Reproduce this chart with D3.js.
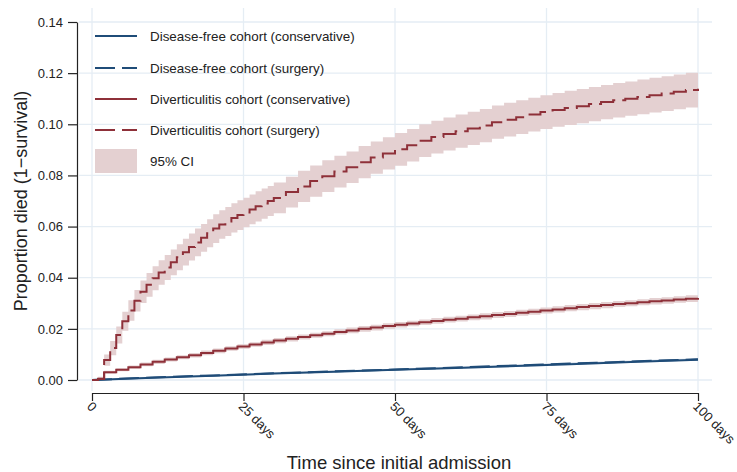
<!DOCTYPE html>
<html>
    <head>
        <title>Cumulative mortality</title>
        <script src="https://d3js.org/d3.v7.min.js"></script>
    </head>
    <body style="margin:0">

        <style type="text/css">
            svg text {
                font-family: "Liberation Sans", Arial, Helvetica, sans-serif;
                fill: #222;
            }
            .grid line {
                stroke: #e5edf4;
                stroke-width: 1.3;
            }
            .axis path, .axis line {
                stroke: #222;
                stroke-width: 1.2;
            }
            .axis text {
                font-size: 13px;
            }
            .km {
                fill: none;
                stroke-width: 2;
            }
        </style>

        <script>
            var svgWidth = 737, svgHeight = 472;

            var yTicks = [0, 0.02, 0.04, 0.06, 0.08, 0.10, 0.12, 0.14];
            var xTicks = [0, 25, 50, 75, 100];
            var xTickLabels = ["0", "25 days", "50 days", "75 days", "100 days"];

            var legendLabels = [
                "Disease-free cohort (conservative)",
                "Disease-free cohort (surgery)",
                "Diverticulitis cohort (conservative)",
                "Diverticulitis cohort (surgery)",
                "95% CI"
            ];

            // rows: [day, proportion died, CI half-width]
            var freeConservative = [
                [0, 0, 0], [10, 0.0009, 0.0002], [20, 0.0017, 0.0002], [30, 0.0025, 0.0003],
                [40, 0.0032, 0.0003], [50, 0.0040, 0.0003], [60, 0.0047, 0.0003], [70, 0.0055, 0.0004],
                [80, 0.0063, 0.0004], [90, 0.0071, 0.0004], [100, 0.0079, 0.0004]
            ];
            var freeSurgery = [
                [0, 0, 0], [10, 0.0010, 0.0002], [20, 0.0018, 0.0002], [30, 0.0026, 0.0003],
                [40, 0.0034, 0.0003], [50, 0.0041, 0.0003], [60, 0.0049, 0.0003], [70, 0.0057, 0.0004],
                [80, 0.0065, 0.0004], [90, 0.0073, 0.0004], [100, 0.0081, 0.0004]
            ];
            var divConservative = [
                [0, 0, 0], [1, 0.0004, 0.0003], [2, 0.0030, 0.0006], [4, 0.0040, 0.0006], [6, 0.0050, 0.0007],
                [8, 0.0061, 0.0007], [10, 0.0071, 0.0008], [12, 0.0080, 0.0008], [14, 0.0089, 0.0008],
                [16, 0.0097, 0.0009], [18, 0.0106, 0.0009], [20, 0.0114, 0.0009], [22, 0.0123, 0.0009],
                [24, 0.0131, 0.0009], [26, 0.0139, 0.0009], [28, 0.0147, 0.0010], [30, 0.0154, 0.0010],
                [32, 0.0161, 0.0010], [34, 0.0168, 0.0010], [36, 0.0175, 0.0010], [38, 0.0181, 0.0010],
                [40, 0.0188, 0.0010], [42, 0.0194, 0.0011], [44, 0.0200, 0.0011], [46, 0.0205, 0.0011],
                [48, 0.0211, 0.0011], [50, 0.0216, 0.0011], [52, 0.0221, 0.0011], [54, 0.0226, 0.0011],
                [56, 0.0231, 0.0011], [58, 0.0236, 0.0011], [60, 0.0240, 0.0011], [62, 0.0245, 0.0011],
                [64, 0.0249, 0.0012], [66, 0.0254, 0.0012], [68, 0.0258, 0.0012], [70, 0.0263, 0.0012],
                [72, 0.0267, 0.0012], [74, 0.0272, 0.0012], [76, 0.0276, 0.0012], [78, 0.0281, 0.0012],
                [80, 0.0285, 0.0012], [82, 0.0289, 0.0012], [84, 0.0293, 0.0012], [86, 0.0297, 0.0012],
                [88, 0.0300, 0.0012], [90, 0.0304, 0.0012], [92, 0.0308, 0.0013], [94, 0.0311, 0.0013],
                [96, 0.0315, 0.0013], [98, 0.0318, 0.0013], [100, 0.0321, 0.0013]
            ];
            var divSurgery = [
                [0, 0, 0], [1, 0.0005, 0.0008], [2, 0.0078, 0.0022], [3, 0.0125, 0.0028], [4, 0.0176, 0.0033],
                [5, 0.0230, 0.0037], [6, 0.0272, 0.0040], [7, 0.0310, 0.0042], [8, 0.0345, 0.0044],
                [9, 0.0372, 0.0046], [10, 0.0398, 0.0047], [11, 0.0420, 0.0048], [12, 0.0440, 0.0049],
                [13, 0.0460, 0.0050], [14, 0.0480, 0.0051], [15, 0.0500, 0.0052], [16, 0.0520, 0.0053],
                [17, 0.0538, 0.0054], [18, 0.0556, 0.0054], [19, 0.0574, 0.0055], [20, 0.0592, 0.0056],
                [21, 0.0608, 0.0056], [22, 0.0620, 0.0057], [23, 0.0634, 0.0057], [24, 0.0645, 0.0058],
                [25, 0.0655, 0.0058], [26, 0.0667, 0.0058], [27, 0.0679, 0.0059], [28, 0.0690, 0.0059],
                [29, 0.0700, 0.0059], [30, 0.0712, 0.0060], [32, 0.0735, 0.0060], [34, 0.0757, 0.0061],
                [36, 0.0778, 0.0061], [38, 0.0797, 0.0062], [40, 0.0815, 0.0062], [42, 0.0832, 0.0062],
                [44, 0.0852, 0.0063], [46, 0.0870, 0.0063], [48, 0.0886, 0.0063], [50, 0.0902, 0.0064],
                [52, 0.0918, 0.0064], [54, 0.0936, 0.0064], [56, 0.0950, 0.0064], [58, 0.0962, 0.0065],
                [60, 0.0973, 0.0065], [62, 0.0984, 0.0065], [64, 0.0995, 0.0065], [66, 0.1008, 0.0065],
                [68, 0.1018, 0.0066], [70, 0.1028, 0.0066], [72, 0.1038, 0.0066], [74, 0.1048, 0.0066],
                [76, 0.1056, 0.0066], [78, 0.1064, 0.0067], [80, 0.1071, 0.0067], [82, 0.1079, 0.0067],
                [84, 0.1087, 0.0067], [86, 0.1094, 0.0067], [88, 0.1100, 0.0067], [90, 0.1107, 0.0068],
                [92, 0.1114, 0.0068], [94, 0.1120, 0.0068], [96, 0.1127, 0.0068], [98, 0.1134, 0.0068],
                [100, 0.1139, 0.0068]
            ];

            var blue = "#1f4c78", red = "#8e3039", ciRed = "#e4d0d1", ciBlue = "#d9e0ea";

            var series = [
                {data: freeConservative, color: blue, ci: ciBlue, dash: null, curve: d3.curveLinear},
                {data: freeSurgery, color: blue, ci: ciBlue, dash: "20,7", curve: d3.curveLinear},
                {data: divConservative, color: red, ci: ciRed, dash: null, curve: d3.curveStepAfter},
                {data: divSurgery, color: red, ci: ciRed, dash: "20,7", curve: d3.curveStepAfter}
            ];

            var xScale = d3.scaleLinear().domain([0, 100]).range([92, 698]);
            var yScale = d3.scaleLinear().domain([0, 0.14]).range([380, 22]);

            var svg = d3.select("body").append("svg")
                            .attr("width", svgWidth)
                            .attr("height", svgHeight);

            svg.append("rect").attr("width", svgWidth).attr("height", svgHeight).attr("fill", "#fff");

            // grid
            var grid = svg.append("g").attr("class", "grid");
            grid.selectAll(".hg").data(yTicks).enter().append("line")
                .attr("x1", 79).attr("x2", 712)
                .attr("y1", d => yScale(d)).attr("y2", d => yScale(d));
            grid.selectAll(".vg").data(xTicks).enter().append("line")
                .attr("x1", d => xScale(d)).attr("x2", d => xScale(d))
                .attr("y1", 8).attr("y2", 391);

            // CI bands
            series.forEach(function (s) {
                var area = d3.area()
                    .x(d => xScale(d[0]))
                    .y0(d => yScale(Math.max(0, d[1] - d[2])))
                    .y1(d => yScale(d[1] + d[2]))
                    .curve(s.curve);
                svg.append("path").datum(s.data)
                    .attr("fill", s.ci)
                    .attr("d", area);
            });

            // lines
            series.forEach(function (s) {
                var line = d3.line()
                    .x(d => xScale(d[0]))
                    .y(d => yScale(d[1]))
                    .curve(s.curve);
                svg.append("path").datum(s.data)
                    .attr("class", "km")
                    .attr("stroke", s.color)
                    .attr("stroke-dasharray", s.dash)
                    .attr("d", line);
            });

            // y axis
            svg.append("g")
                .attr("class", "axis")
                .attr("transform", "translate(77,0)")
                .call(d3.axisLeft(yScale).tickValues(yTicks).tickFormat(d3.format(".2f"))
                        .tickSize(9).tickSizeOuter(0).tickPadding(5));

            // x axis
            var xAxis = svg.append("g")
                .attr("class", "axis")
                .attr("transform", "translate(0,393)")
                .call(d3.axisBottom(xScale).tickValues(xTicks).tickFormat((d, i) => xTickLabels[i])
                        .tickSize(8).tickSizeOuter(0));
            xAxis.selectAll(".tick text")
                .attr("text-anchor", "start")
                .attr("x", 0).attr("y", 0)
                .attr("dy", "0.35em")
                .attr("transform", "translate(-3,11) rotate(45)");

            svg.selectAll(".axis text").attr("fill", "#222");

            // titles
            svg.append("text")
                .attr("x", 399).attr("y", 469)
                .attr("text-anchor", "middle")
                .style("font-size", "18.5px")
                .text("Time since initial admission");

            svg.append("text")
                .attr("transform", "translate(27,201) rotate(-90)")
                .attr("text-anchor", "middle")
                .style("font-size", "18px")
                .text("Proportion died (1\u2212survival)");

            // legend
            var legend = svg.append("g");
            var rowY = [36, 68, 99, 130];
            series.forEach(function (s, i) {
                legend.append("line")
                    .attr("x1", 95).attr("x2", 137)
                    .attr("y1", rowY[i]).attr("y2", rowY[i])
                    .attr("stroke", s.color)
                    .attr("stroke-width", 2)
                    .attr("stroke-dasharray", s.dash);
                legend.append("text")
                    .attr("x", 150).attr("y", rowY[i])
                    .attr("dy", "0.35em")
                    .style("font-size", "13.4px")
                    .text(legendLabels[i]);
            });
            legend.append("rect")
                .attr("x", 95).attr("y", 149)
                .attr("width", 42).attr("height", 24)
                .attr("fill", ciRed);
            legend.append("text")
                .attr("x", 150).attr("y", 161)
                .attr("dy", "0.35em")
                .style("font-size", "13.4px")
                .text(legendLabels[4]);
        </script>
    </body>
</html>
